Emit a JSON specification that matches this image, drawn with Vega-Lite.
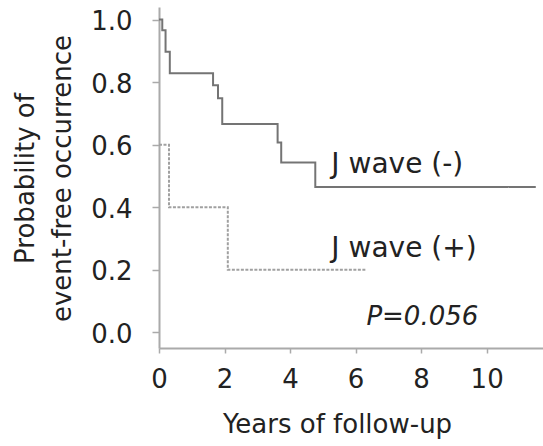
{
  "$schema": "https://vega.github.io/schema/vega-lite/v6.json",
  "width": 384,
  "height": 341,
  "autosize": {"type": "none"},
  "padding": {"left": 159, "top": 7, "right": 0, "bottom": 98},
  "background": "white",
  "config": {"view": {"stroke": null}, "font": "DejaVu Sans"},
  "datasets": {
    "curves": [
      {"group": "J wave (-)", "t": 0, "p": 1.0},
      {"group": "J wave (-)", "t": 0.10, "p": 0.966},
      {"group": "J wave (-)", "t": 0.20, "p": 0.897},
      {"group": "J wave (-)", "t": 0.33, "p": 0.828},
      {"group": "J wave (-)", "t": 1.65, "p": 0.79},
      {"group": "J wave (-)", "t": 1.80, "p": 0.748},
      {"group": "J wave (-)", "t": 1.93, "p": 0.666},
      {"group": "J wave (-)", "t": 3.62, "p": 0.607},
      {"group": "J wave (-)", "t": 3.73, "p": 0.543},
      {"group": "J wave (-)", "t": 4.77, "p": 0.465},
      {"group": "J wave (-)", "t": 11.5, "p": 0.465},
      {"group": "J wave (+)", "t": 0, "p": 0.6},
      {"group": "J wave (+)", "t": 0.305, "p": 0.4},
      {"group": "J wave (+)", "t": 2.1, "p": 0.2},
      {"group": "J wave (+)", "t": 6.33, "p": 0.2}
    ],
    "labels": [
      {"label": "J wave (-)", "t": 5.26, "p": 0.509},
      {"label": "J wave (+)", "t": 5.26, "p": 0.241}
    ],
    "pval": [
      {"label": "P=0.056", "t": 6.33, "p": 0.023}
    ]
  },
  "layer": [
    {
      "data": {"name": "curves"},
      "mark": {"type": "line", "interpolate": "step-after", "strokeWidth": 2},
      "encoding": {
        "x": {
          "field": "t", "type": "quantitative",
          "scale": {"domain": [0, 11.72], "nice": false, "zero": false},
          "axis": {
            "values": [0, 2, 4, 6, 8, 10], "format": "d",
            "title": "Years of follow-up",
            "titleX": 178, "titleY": 84, "titleAlign": "center", "titleBaseline": "alphabetic",
            "titleFontSize": 26, "titleFontWeight": "normal", "titleColor": "#222",
            "labelFontSize": 26, "labelColor": "#222", "labelPadding": 13, "labelFlush": false, "labelOverlap": false,
            "tickSize": 5, "tickColor": "#aaa", "tickWidth": 1.5,
            "domainColor": "#aaa", "domainWidth": 2, "grid": false
          }
        },
        "y": {
          "field": "p", "type": "quantitative",
          "scale": {"domain": [-0.05, 1.04], "nice": false, "zero": false},
          "axis": {
            "values": [0, 0.2, 0.4, 0.6, 0.8, 1.0], "format": ".1f",
            "title": ["Probability of", "event-free occurrence"],
            "titleX": -126, "titleY": 171, "titleAngle": -90, "titleAlign": "center", "titleBaseline": "alphabetic",
            "titleLineHeight": 37,
            "titleFontSize": 26, "titleFontWeight": "normal", "titleColor": "#222",
            "labelFontSize": 26, "labelColor": "#222", "labelPadding": 20, "labelFlush": false, "labelOverlap": false, "labelOffset": 2,
            "tickSize": 7, "tickColor": "#aaa", "tickWidth": 1.5,
            "domainColor": "#aaa", "domainWidth": 2, "grid": false
          }
        },
        "color": {
          "field": "group", "type": "nominal",
          "scale": {"domain": ["J wave (-)", "J wave (+)"], "range": ["#747474", "#a0a0a0"]},
          "legend": null
        },
        "strokeDash": {
          "field": "group", "type": "nominal",
          "scale": {"domain": ["J wave (-)", "J wave (+)"], "range": [[1, 0], [3, 1.5]]},
          "legend": null
        }
      }
    },
    {
      "data": {"name": "labels"},
      "mark": {"type": "text", "align": "left", "baseline": "alphabetic", "fontSize": 28, "color": "#222"},
      "encoding": {
        "x": {"field": "t", "type": "quantitative"},
        "y": {"field": "p", "type": "quantitative"},
        "text": {"field": "label"}
      }
    },
    {
      "data": {"name": "pval"},
      "mark": {"type": "text", "align": "left", "baseline": "alphabetic", "fontSize": 26, "fontStyle": "italic", "color": "#222"},
      "encoding": {
        "x": {"field": "t", "type": "quantitative"},
        "y": {"field": "p", "type": "quantitative"},
        "text": {"field": "label"}
      }
    }
  ]
}
